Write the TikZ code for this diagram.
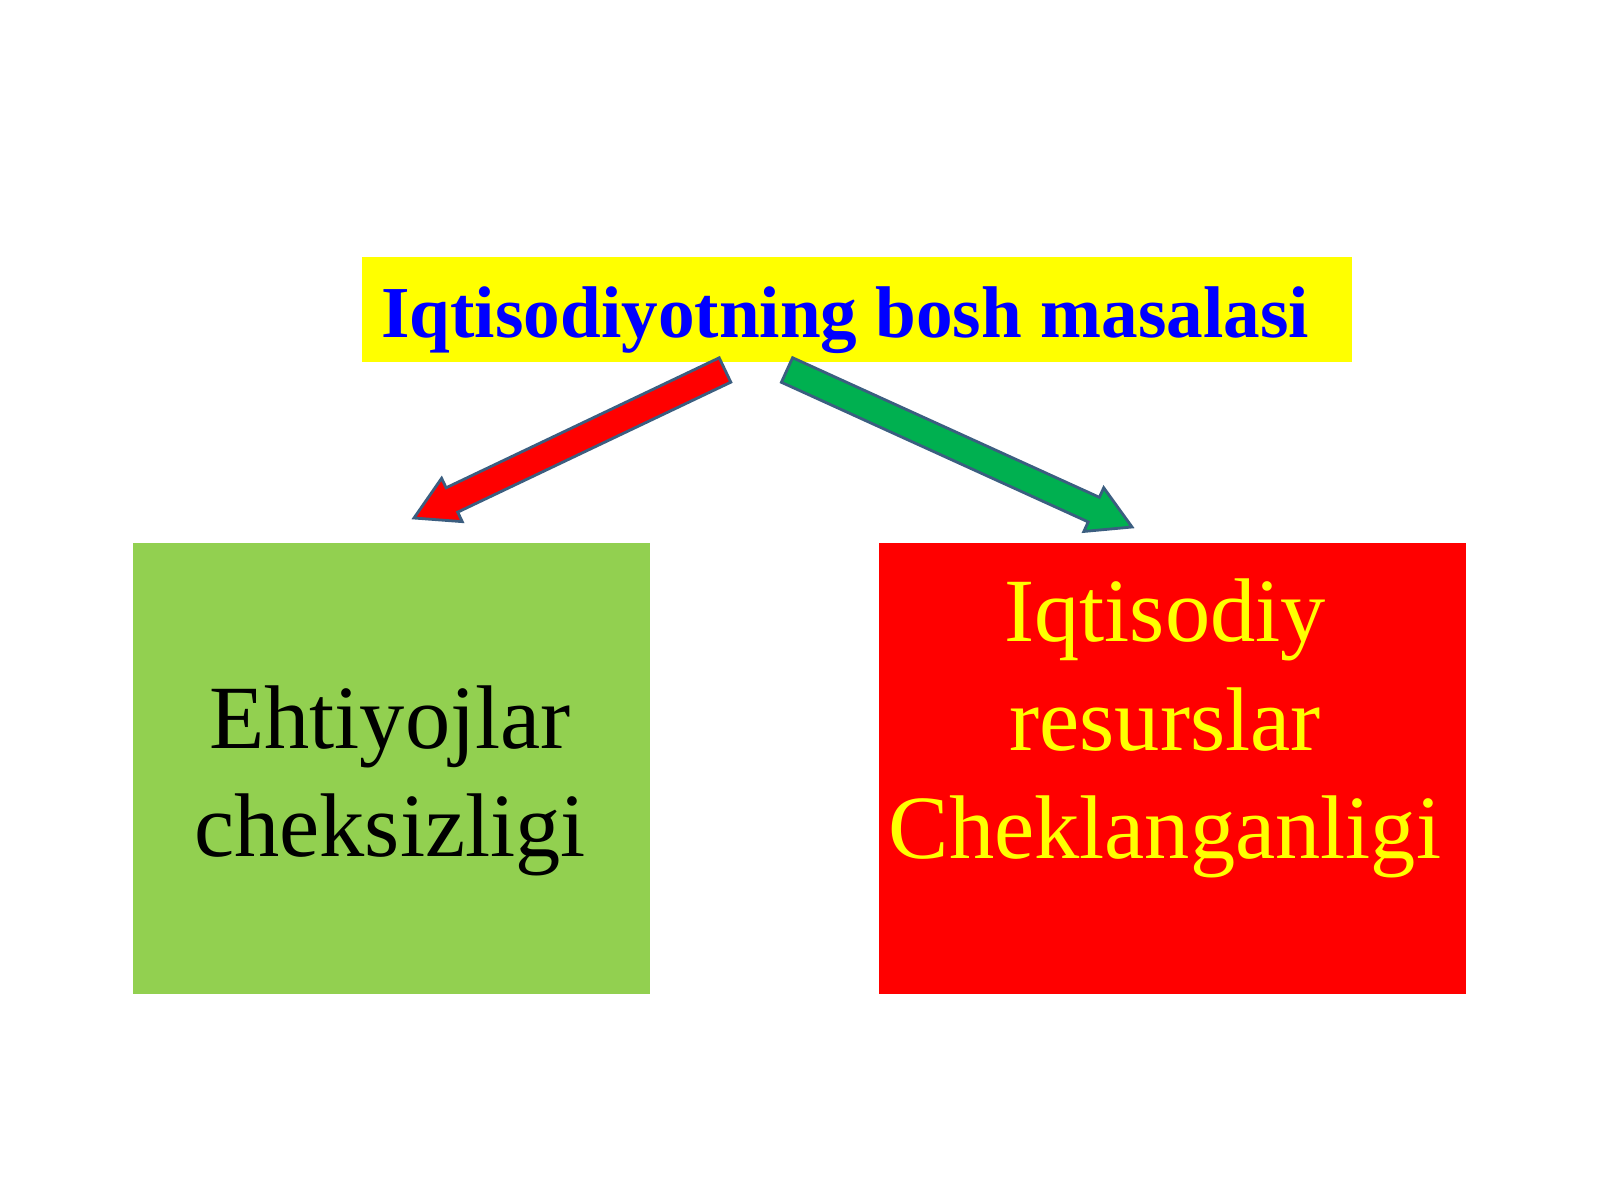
\documentclass[tikz,border=0pt]{standalone}
\usepackage{fontspec}
\setmainfont{Liberation Serif}
\usetikzlibrary{calc}
\definecolor{titleyellow}{HTML}{FFFF00}
\definecolor{titleblue}{HTML}{0000FF}
\definecolor{boxgreen}{HTML}{92D050}
\definecolor{boxred}{HTML}{FF0000}
\definecolor{arrowred}{HTML}{FF0000}
\definecolor{arrowgreen}{HTML}{00B050}
\definecolor{arrowedge}{HTML}{3B5E80}
\tikzset{
  plainbox/.style={draw=none, inner sep=0pt, outer sep=0pt},
  bigtext/.style={align=center, inner sep=0pt, font=\fontsize{45.2}{54.25}\selectfont},
  fatarrow/.style={draw=arrowedge, line width=1.4pt, line join=miter},
}
% #1 tail, #2 tip, #3 fill colour, #4 prefix
\newcommand{\fatarrowdraw}[4]{%
  \coordinate (#4H) at ($(#2)!21pt!(#1)$);
  \filldraw[fatarrow, fill=#3]
    ($(#1)!6.75pt!90:(#2)$) --
    ($(#4H)!6.75pt!-90:(#1)$) --
    ($(#4H)!12pt!-90:(#1)$) --
    (#2) --
    ($(#4H)!12pt!90:(#1)$) --
    ($(#4H)!6.75pt!90:(#1)$) --
    ($(#1)!6.75pt!-90:(#2)$) -- cycle;
}
\begin{document}
\begin{tikzpicture}[x=0.5pt, y=-0.5pt]
  \useasboundingbox[fill=white] (0,0) rectangle (1600,1200);
  % title
  \node[plainbox, fill=titleyellow, minimum width=495pt, minimum height=52.5pt] (titlebox) at (857,309.5) {};
  \node[inner sep=0pt, anchor=base west, text=titleblue, font=\fontsize{36.6}{44}\selectfont\bfseries] (title) at (381,337) {Iqtisodiyotning bosh masalasi};
  % boxes
  \node[plainbox, fill=boxgreen, minimum width=258.5pt, minimum height=225.5pt] (leftbox) at (391.5,768.5) {};
  \node[bigtext, text=black] (lefttext) at (390,781) {Ehtiyojlar\\cheksizligi};
  \node[plainbox, fill=boxred, minimum width=293.5pt, minimum height=225.5pt] (rightbox) at (1172.5,768.5) {};
  \node[bigtext, text=titleyellow] (righttext) at (1165,728.5) {Iqtisodiy\\resurslar\\Cheklanganligi};
  % arrows
  \coordinate (rtail) at (725,370);
  \coordinate (rtip) at (414,518);
  \coordinate (gtail) at (787,370);
  \coordinate (gtip) at (1132,527);
  \fatarrowdraw{rtail}{rtip}{arrowred}{ra}
  \fatarrowdraw{gtail}{gtip}{arrowgreen}{ga}
\end{tikzpicture}
\end{document}
